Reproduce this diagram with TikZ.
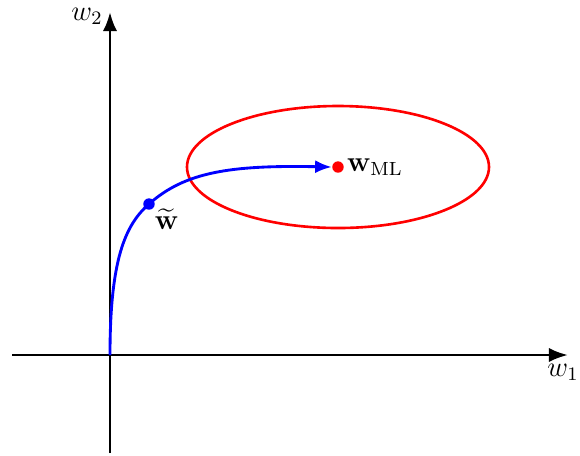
\documentclass[tikz,border=0pt]{standalone}
\usepackage{amsmath}
\usetikzlibrary{arrows.meta}

\tikzset{
  axis/.style={line width=1.2pt,-{Latex[length=8pt,width=6pt]}},
  dotnode/.style={circle,inner sep=0pt,minimum size=4.8pt},
}

\begin{document}
\begin{tikzpicture}[x=0.42pt,y=-0.42pt,font=\large]
\path[use as bounding box] (0,0) rectangle (580,455);
% axes
\coordinate (xstart) at (12,355);
\coordinate (xend) at (568,355);
\coordinate (ystart) at (110,453);
\coordinate (yend) at (110,12);
\coordinate (origin) at (110,355);
\draw[axis] (xstart) -- (xend);
\draw[axis] (ystart) -- (yend);
\node (lw1) at (563,372) {$w_1$};
\node (lw2) at (87,16) {$w_2$};
% likelihood contour
\draw[red,line width=1.1pt] (338,167) ellipse [x radius=151,y radius=61];
\node[dotnode,fill=red] (wml) at (338,167) {};
\node[anchor=west,inner sep=1pt] (lwml) at (wml.east) {$\mathbf{w}_{\mathrm{ML}}$};
% regularised solution path
\node[dotnode,fill=blue] (wt) at (149,204) {};
\node[anchor=north west,inner sep=1pt] (lwt) at (152,206) {$\widetilde{\mathbf{w}}$};
\draw[blue,line width=1.2pt,-{Latex[length=7pt,width=5.5pt]}] (origin)
  .. controls (110,260) and (125,225) .. (wt.center)
  .. controls (185,172) and (230,165) .. (wml.west);
\end{tikzpicture}
\end{document}
